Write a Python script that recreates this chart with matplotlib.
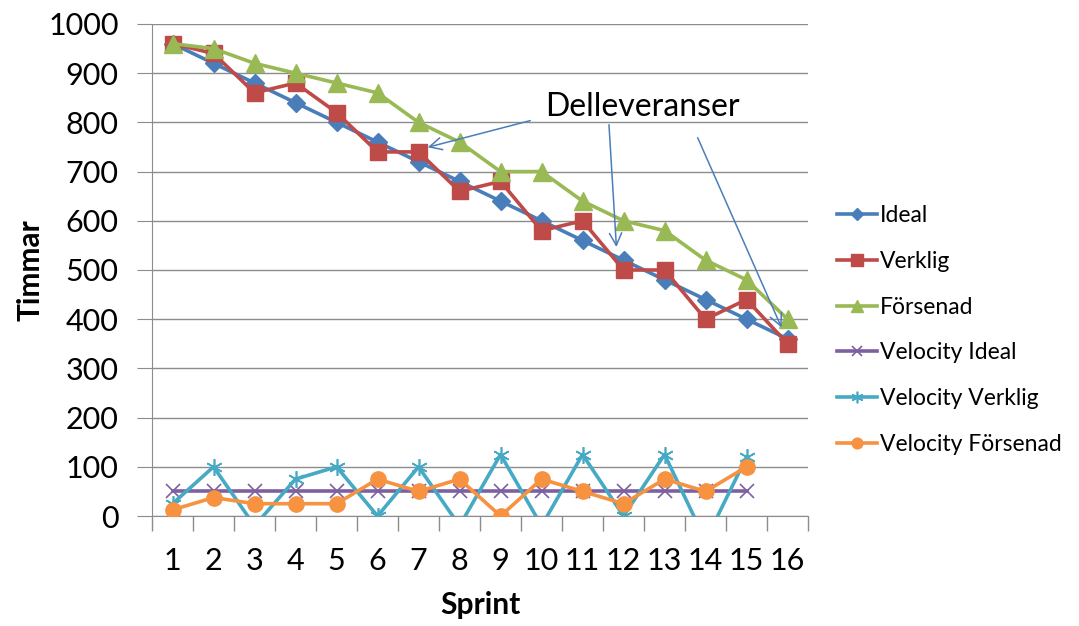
import matplotlib
matplotlib.use("Agg")
import matplotlib.pyplot as plt

plt.rcParams["font.family"] = ["Lato", "DejaVu Sans"]

sprints = list(range(1, 17))
vel_sprints = list(range(1, 16))

ideal = [960, 920, 880, 840, 800, 760, 720, 680, 640, 600, 560, 520, 480, 440, 400, 360]
verklig = [960, 940, 860, 880, 820, 740, 740, 660, 680, 580, 600, 500, 500, 400, 440, 350]
forsenad = [960, 950, 920, 900, 880, 860, 800, 760, 700, 700, 640, 600, 580, 520, 480, 400]

vel_ideal = [50] * 15
vel_verklig = [25, 100, -20, 75, 100, 0, 100, -20, 125, -20, 125, 0, 125, -50, 120]
vel_forsenad = [12.5, 37.5, 25, 25, 25, 75, 50, 75, 0, 75, 50, 25, 75, 50, 100]

grid_col = "#8c8c8c"

fig = plt.figure(figsize=(10.79, 6.26), dpi=100)
ax = fig.add_axes([0.1409, 0.1757, 0.608, 0.786])

lw = 2.6
ax.plot(sprints, ideal, color="#4A7EBB", lw=lw, marker="D", ms=9, label="Ideal", zorder=3)
ax.plot(sprints, verklig, color="#BE4B48", lw=lw, marker="s", ms=12, label="Verklig", zorder=3)
ax.plot(sprints, forsenad, color="#98B954", lw=lw, marker="^", ms=13, label="Försenad", zorder=3)
ax.plot(vel_sprints, vel_ideal, color="#7D60A0", lw=lw, marker="x", ms=10, mew=1.2, label="Velocity Ideal", zorder=3)
ax.plot(vel_sprints, vel_verklig, color="#46AAC5", lw=lw, marker=(6, 2, 0), ms=12, mew=1.2, label="Velocity Verklig", zorder=3)
ax.plot(vel_sprints, vel_forsenad, color="#F69240", lw=lw, marker="o", ms=11, label="Velocity Försenad", zorder=3)

ax.set_xlim(0.5, 16.5)
ax.set_ylim(0, 1000)
ax.set_yticks(range(0, 1001, 100))
ax.set_xticks(sprints)
ax.set_xticks([s + 0.5 for s in range(0, 17)], minor=True)
ax.tick_params(axis="x", which="major", length=0, labelsize=22, pad=22)
ax.tick_params(axis="x", which="minor", length=11, color=grid_col, width=1)
ax.tick_params(axis="y", length=11, color=grid_col, labelsize=22, pad=13)
ax.grid(axis="y", color=grid_col, lw=1)
ax.set_axisbelow(True)

for side in ["top", "right"]:
    ax.spines[side].set_visible(False)
for side in ["left", "bottom"]:
    ax.spines[side].set_color(grid_col)

ax.set_ylabel("Timmar", fontsize=21.5, fontweight="bold", labelpad=3)
ax.set_xlabel("Sprint", fontsize=21.5, fontweight="bold", labelpad=12)

# Delleveranser annotation
arrow = dict(arrowstyle="->", color="#4A7EBB", lw=1.1, mutation_scale=22)
ax.text(12.47, 831, "Delleveranser", fontsize=23, ha="center", va="center")
ax.annotate("", xy=(7.16, 748), xytext=(9.79, 805), arrowprops=arrow)
ax.annotate("", xy=(11.83, 541), xytext=(11.64, 801), arrowprops=arrow)
ax.annotate("", xy=(15.88, 378), xytext=(13.78, 774), arrowprops=arrow)

fig.legend(loc="center left", bbox_to_anchor=(0.776, 0.473), frameon=False,
           fontsize=16.5, labelspacing=1.08, handlelength=1.75, handletextpad=0.1,
           markerscale=0.7, borderpad=0, borderaxespad=0)

fig.savefig("out.png", dpi=100)
